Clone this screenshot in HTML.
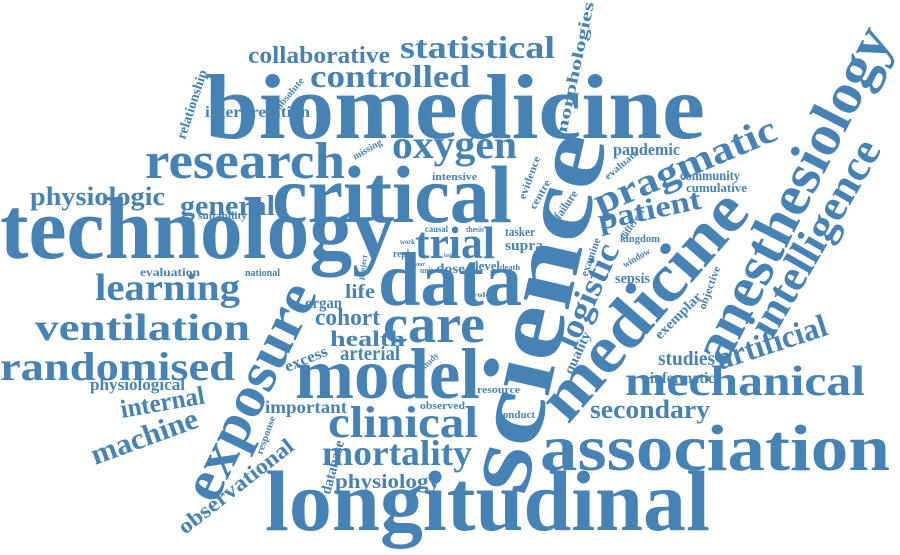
<!DOCTYPE html>
<html><head><meta charset="utf-8">
<style>
html,body{margin:0;padding:0;background:#fff;}
svg{display:block;}
text{font-family:"Liberation Serif",serif;font-weight:bold;fill:#4682b4;}
</style></head>
<body>
<svg id="cloud" width="900" height="555" viewBox="0 0 900 555" xmlns="http://www.w3.org/2000/svg"></svg>
<script>
// word, baseline start x, baseline start y, font size, rotation deg, text length
const words = ["biomedicine","technology","critical","longitudinal","association","science","medicine","anesthesiology","intelligence","exposure","data","model","care","research","oxygen","controlled","statistical","collaborative","pragmatic","patient","trial","general","physiologic","learning","ventilation","randomised","internal","physiological","machine","clinical","mortality","physiology","mechanical","artificial","secondary","studies","informatics","logistic","cohort","life","health","arterial","excess","organ","important","observational","database","morphologies","relationship","interpretation","pandemic","community","cumulative","suitability","evaluation","national","dose","level","supra","tasker","intensive","sepsis","kingdom","quality","exemplar","objective","resource","observed","conduct","response","study","missing","absolute","evidence","centre","failure","evaluate","different","window","examine","causal","thesis","lack","hour","work","reply","unit","project","death","role"];
const xs = [205,0,272,265,540,525,568,725,772,215,378,295,383,145,392,310,400,248,600,600,415,180,30,95,35,0,122,90,95,328,322,335,625,720,590,658,650,575,315,345,330,340,287,305,265,185,330,565,185,205,613,680,686,198,140,245,436,475,505,505,432,615,620,572,660,705,477,420,498,262,425,355,280,525,535,560,608,625,625,587,425,466,444,413,400,393,420,363,500,473];
const ys = [138,258,222,530,470,497,425,368,340,505,305,398,342,178,158,87,58,63,215,230,258,215,205,300,340,380,418,390,465,437,465,488,395,370,418,365,383,350,325,298,346,360,372,308,413,535,495,140,140,117,155,180,192,219,276,276,273,270,250,236,180,283,242,375,340,310,393,409,418,455,370,160,110,200,210,220,180,240,268,277,232,232,257,266,244,257,273,280,270,297];
const sizes = [92,88,82,86,66,100,68,58,44,58,76,72,54,52,40,32,32,24,38,30,45,28,26,38,38,40,26,17,30,44,36,20,42,32,26,20,16,34,24,20,22,20,16,16,18,22,15,16,14,16,17,14,13,11,12,10,14,13,15,13,11,15,11,14,14,11,11,10,11,10,9,10,10,11,11,12,10,10,10,11,9,8,6,6,7,10,8,8,8,7];
const angles = [0,0,0,0,0,-77,-49,-63,-60,-64,0,0,0,0,0,0,0,0,-23,-12,0,0,0,0,0,0,-10,0,-20,0,0,0,0,-18,0,0,0,-66,0,0,0,0,-22,0,0,-38,-75,-78,-72,0,0,0,0,0,0,0,0,0,0,0,0,0,0,-65,-45,-70,0,0,0,-70,-45,-30,-50,-70,-60,-55,-40,-55,-30,-70,0,0,0,0,0,0,0,-80,0,0];
const lengths = [500,395,240,445,350,365,280,370,220,235,144,185,102,200,125,160,155,142,195,105,80,95,135,145,215,235,85,95,112,150,150,105,240,115,120,57,70,110,65,30,75,60,45,37,82,140,55,140,72,105,67,60,61,49,60,35,29,25,38,30,45,35,40,45,60,45,43,45,37,40,20,32,38,45,32,32,40,35,30,40,23,18,9,12,15,21,13,25,20,17];

const svg = document.getElementById('cloud');
const NS = 'http://www.w3.org/2000/svg';
for (let i = 0; i < words.length; i++) {
  const t = document.createElementNS(NS, 'text');
  
  
  t.setAttribute('x', xs[i]);
  t.setAttribute('y', ys[i]);
  t.setAttribute('font-size', sizes[i]);
  t.setAttribute('textLength', lengths[i]);
  t.setAttribute('lengthAdjust', 'spacingAndGlyphs');
  if (angles[i]) t.setAttribute('transform', 'rotate(' + angles[i] + ' ' + xs[i] + ' ' + ys[i] + ')');
  t.textContent = words[i];
  svg.appendChild(t);
}
</script>
</body></html>
